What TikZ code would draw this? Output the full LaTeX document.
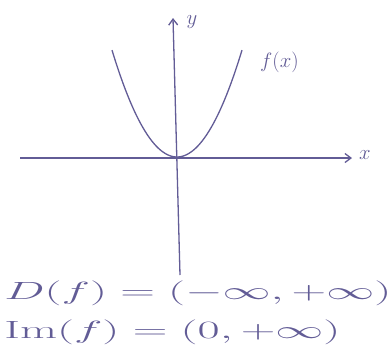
\documentclass[tikz,border=0pt]{standalone}
\usepackage{amsmath}
\usepackage{tikz}
\usetikzlibrary{arrows.meta, positioning, calc}
\definecolor{pen}{RGB}{98,92,150}

\begin{document}
\begin{tikzpicture}[
    x=1pt, y=-1pt,
    ax/.style={-{Straight Barb[length=6pt, width=9pt]}, draw=pen, line width=1.3pt},
    crv/.style={draw=pen, line width=1.3pt},
    lbl/.style={text=pen, inner sep=0pt, font=\fontsize{20}{24}\selectfont},
    eq/.style={text=pen, inner sep=0pt, anchor=west, font=\fontsize{31}{34}\selectfont, xscale=1.93},
]
\useasboundingbox (0,0) rectangle (392,359);

% --- axes ---
\coordinate (O) at (177,157);
\coordinate (xl) at (20,158);
\coordinate (xr) at (352,158);
\coordinate (yb) at (180,275);
\coordinate (yt) at (173,18);

\draw[ax] (xl) -- (xr);
\draw[ax] (yb) -- (yt);
\node[lbl] (xlab) at (365,155) {$x$};
\node[lbl] (ylab) at (192,22) {$y$};

% --- parabola f(x) ---
\draw[crv] plot[domain=-65:65, samples=60, smooth] ({177+\x}, {157-0.0253*\x*\x});
\coordinate (fend) at (258,62);
\node[lbl, right=2pt of fend] (flab) {$f(x)$};

% --- domain and image ---
\node[eq] (dom) at (4,293) {$D(f)=(-\infty,+\infty)$};
\node[eq] (img) at (4,332) {$\mathrm{Im}(f)=(0,+\infty)$};

\end{tikzpicture}
\end{document}
